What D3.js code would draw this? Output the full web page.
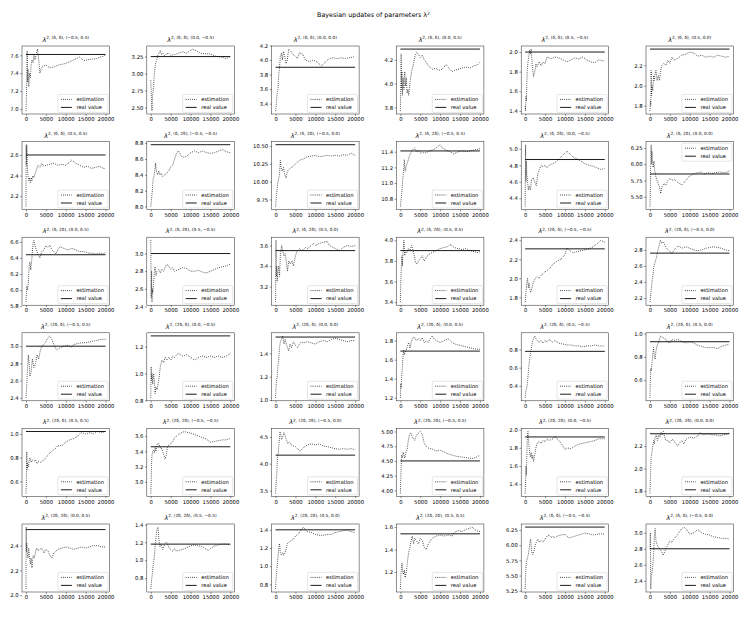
<!DOCTYPE html>
<html>
<head>
<meta charset="utf-8">
<script src="https://cdn.jsdelivr.net/npm/d3@7"></script>
<style>
  body { margin: 0; background: #fff; }
  text { font-family: "DejaVu Sans", sans-serif; }
</style>
</head>
<body>
<script>
// superscript part of each panel title
const panelTitles = [
  '2, (δ, δ), (−0.5, 0.5)', '2, (δ, δ), (0.0, −0.5)', '2, (δ, δ), (0.0, 0.0)',
  '2, (δ, δ), (0.0, 0.5)', '2, (δ, δ), (0.5, −0.5)', '2, (δ, δ), (0.5, 0.0)',
  '2, (δ, δ), (0.5, 0.5)', '2, (δ, 2δ), (−0.5, −0.5)', '2, (δ, 2δ), (−0.5, 0.0)',
  '2, (δ, 2δ), (−0.5, 0.5)', '2, (δ, 2δ), (0.0, −0.5)', '2, (δ, 2δ), (0.0, 0.0)',
  '2, (δ, 2δ), (0.0, 0.5)', '2, (δ, 2δ), (0.5, −0.5)', '2, (δ, 2δ), (0.5, 0.0)',
  '2, (δ, 2δ), (0.5, 0.5)', '2, (2δ, δ), (−0.5, −0.5)', '2, (2δ, δ), (−0.5, 0.0)',
  '2, (2δ, δ), (−0.5, 0.5)', '2, (2δ, δ), (0.0, −0.5)', '2, (2δ, δ), (0.0, 0.0)',
  '2, (2δ, δ), (0.0, 0.5)', '2, (2δ, δ), (0.5, −0.5)', '2, (2δ, δ), (0.5, 0.0)',
  '2, (2δ, δ), (0.5, 0.5)', '2, (2δ, 2δ), (−0.5, −0.5)', '2, (2δ, 2δ), (−0.5, 0.0)',
  '2, (2δ, 2δ), (−0.5, 0.5)', '2, (2δ, 2δ), (0.0, −0.5)', '2, (2δ, 2δ), (0.0, 0.0)',
  '2, (2δ, 2δ), (0.0, 0.5)', '2, (2δ, 2δ), (0.5, −0.5)', '2, (2δ, 2δ), (0.5, 0.0)',
  '2, (2δ, 2δ), (0.5, 0.5)', '2, (δ, δ), (−0.5, −0.5)', '2, (δ, δ), (−0.5, 0.0)'
];

const realValues = [
  7.61, 3.25, 3.9, 4.29, 2.0, 2.36,
  2.6, 8.78, 10.52, 11.41, 4.87, 5.85,
  6.44, 3.0, 3.55, 3.9, 2.31, 2.76,
  3.0, 1.28, 1.54, 1.69, 0.78, 0.93,
  1.02, 3.46, 4.16, 4.5, 1.92, 2.31,
  2.53, 1.18, 1.4, 1.54, 6.3, 2.8
];

const yTickLabels = [
  ['7.0', '7.2', '7.4', '7.6'], ['2.50', '2.75', '3.00', '3.25'], ['3.4', '3.6', '3.8', '4.0', '4.2'],
  ['3.8', '4.0', '4.2'], ['1.4', '1.6', '1.8', '2.0'], ['1.8', '2.0', '2.2'],
  ['2.2', '2.4', '2.6'], ['8.0', '8.2', '8.4', '8.6', '8.8'], ['9.75', '10.00', '10.25', '10.50'],
  ['10.8', '11.0', '11.2', '11.4'], ['4.4', '4.6', '4.8', '5.0'], ['5.50', '5.75', '6.00', '6.25'],
  ['5.8', '6.0', '6.2', '6.4', '6.6'], ['2.4', '2.6', '2.8', '3.0'], ['3.2', '3.4', '3.6'],
  ['3.4', '3.6', '3.8', '4.0'], ['1.8', '2.0', '2.2', '2.4'], ['2.2', '2.4', '2.6', '2.8'],
  ['2.4', '2.6', '2.8', '3.0'], ['0.8', '1.0', '1.2'], ['1.0', '1.2', '1.4'],
  ['1.2', '1.4', '1.6', '1.8'], ['0.4', '0.6', '0.8'], ['0.6', '0.8', '1.0'],
  ['0.6', '0.8', '1.0'], ['3.0', '3.2', '3.4', '3.6'], ['3.5', '4.0', '4.5'],
  ['4.00', '4.25', '4.50', '4.75', '5.00'], ['1.4', '1.6', '1.8', '2.0'], ['1.8', '2.0', '2.2'],
  ['2.0', '2.2', '2.4'], ['0.8', '1.0', '1.2', '1.4'], ['0.8', '1.0', '1.2', '1.4'],
  ['1.2', '1.4', '1.6'], ['5.25', '5.50', '5.75', '6.00', '6.25'], ['2.4', '2.6', '2.8', '3.0']
];

const xTicks = [0, 5000, 10000, 15000, 20000];

// panels whose legend sits in the upper right
const legendUpper = [11];

// estimation curves, [iteration, value]
const estimates = [
  [[0,6.98],[100,7.1],[200,7.35],[300,7.65],[400,7.3],[500,7.45],[700,7.25],[900,7.4],[1100,7.35],[1300,7.5],[1500,7.55],[1800,7.52],[2000,7.6],[2300,7.55],[2600,7.62],[2900,7.67],[3200,7.55],[3500,7.40],[3800,7.45],[4200,7.48],[5000,7.49],[6000,7.46],[7000,7.47],[8000,7.49],[9000,7.50],[10000,7.51],[11000,7.53],[12000,7.55],[13000,7.57],[13500,7.58],[14500,7.54],[15500,7.55],[16500,7.56],[17500,7.56],[18500,7.58],[19500,7.59],[20000,7.61]],
  [[0,2.9],[100,2.75],[200,2.55],[300,2.45],[400,2.6],[500,2.7],[700,2.8],[900,3.0],[1200,3.15],[1500,3.2],[1800,3.28],[2100,3.3],[2400,3.34],[2700,3.28],[3000,3.3],[3500,3.26],[4000,3.29],[4500,3.3],[5000,3.27],[6000,3.28],[7000,3.3],[8000,3.32],[9000,3.3],[10000,3.34],[10500,3.36],[11500,3.33],[12500,3.3],[13500,3.29],[15000,3.29],[16000,3.26],[17000,3.25],[18000,3.24],[19000,3.22],[20000,3.25]],
  [[0,3.3],[200,3.4],[400,3.55],[600,3.6],[800,3.8],[1000,3.9],[1200,4.05],[1500,4.1],[1700,4.0],[2000,4.12],[2300,4.05],[2600,3.95],[2900,3.98],[3300,4.15],[3800,4.12],[4300,4.08],[5000,4.05],[5500,4.02],[6000,4.10],[6800,4.08],[7500,4.0],[8500,3.98],[9500,4.0],[10500,3.97],[11500,3.92],[12500,3.97],[13500,4.02],[14500,4.03],[15500,4.02],[16500,4.03],[17500,4.02],[18500,4.03],[19500,4.04],[20000,4.05]],
  [[0,3.77],[100,4.0],[200,4.25],[300,3.95],[400,4.1],[500,3.9],[700,4.05],[900,3.95],[1100,4.1],[1300,3.98],[1500,4.05],[1700,3.92],[1900,3.95],[2100,3.9],[2400,4.0],[2800,4.1],[3200,4.15],[3600,4.22],[4000,4.26],[4500,4.25],[5000,4.22],[5500,4.24],[6000,4.2],[6500,4.18],[7000,4.15],[8000,4.12],[9000,4.13],[9500,4.11],[10500,4.12],[11500,4.16],[12500,4.12],[13000,4.10],[13500,4.11],[14500,4.12],[15500,4.13],[16500,4.14],[17500,4.13],[18500,4.15],[19500,4.16],[20000,4.18]],
  [[0,1.45],[100,1.4],[200,1.55],[300,1.5],[500,1.8],[700,1.9],[900,1.95],[1100,2.02],[1300,1.98],[1500,2.03],[1800,1.85],[2100,1.75],[2400,1.8],[2700,1.88],[3000,1.85],[3500,1.9],[4000,1.86],[4500,1.9],[5000,1.88],[5500,1.95],[6500,1.93],[7500,1.95],[8500,1.94],[9500,1.92],[10500,1.9],[11500,1.92],[12500,1.94],[13500,1.93],[14500,1.95],[15500,1.92],[16500,1.9],[17500,1.89],[18500,1.92],[19500,1.91],[20000,1.91]],
  [[0,1.75],[100,1.85],[200,1.8],[300,2.15],[400,1.9],[500,2.0],[700,1.95],[900,2.1],[1100,2.05],[1300,2.12],[1500,2.15],[1800,2.05],[2100,2.1],[2400,2.05],[2700,2.15],[3000,2.2],[3500,2.22],[4000,2.2],[4500,2.25],[5000,2.22],[5500,2.28],[6000,2.25],[7000,2.27],[8000,2.3],[9000,2.31],[10000,2.33],[11000,2.32],[12000,2.29],[13000,2.3],[14000,2.28],[15000,2.29],[16000,2.28],[17000,2.3],[18000,2.29],[19000,2.28],[20000,2.29]],
  [[0,2.1],[50,2.7],[100,2.5],[200,2.7],[300,2.6],[400,2.45],[500,2.4],[700,2.35],[900,2.38],[1100,2.33],[1300,2.38],[1500,2.35],[1700,2.4],[2000,2.38],[2300,2.42],[2600,2.45],[3000,2.5],[3500,2.48],[4000,2.52],[4500,2.49],[5000,2.5],[6000,2.51],[7000,2.52],[8000,2.5],[9000,2.51],[10000,2.5],[11000,2.53],[11500,2.55],[12500,2.52],[13500,2.5],[14500,2.48],[15500,2.49],[16500,2.47],[17500,2.48],[18500,2.49],[19500,2.47],[20000,2.47]],
  [[0,8.0],[200,8.1],[400,8.2],[600,8.35],[800,8.38],[1000,8.45],[1200,8.55],[1400,8.45],[1700,8.4],[2000,8.45],[2300,8.4],[2600,8.42],[3000,8.38],[3500,8.4],[4000,8.42],[4500,8.45],[5000,8.5],[5500,8.52],[6000,8.6],[6500,8.68],[7000,8.7],[7500,8.65],[8000,8.62],[9000,8.63],[10000,8.68],[11000,8.7],[12000,8.68],[13000,8.7],[14000,8.68],[15000,8.67],[16000,8.68],[17000,8.7],[18000,8.72],[19000,8.69],[20000,8.68]],
  [[0,9.65],[200,9.8],[400,9.9],[600,10.0],[800,10.05],[1000,10.1],[1200,10.3],[1400,10.2],[1700,10.15],[2000,10.2],[2300,10.1],[2600,10.05],[3000,10.15],[3500,10.18],[4000,10.2],[4500,10.22],[5000,10.25],[6000,10.3],[7000,10.32],[8000,10.35],[9000,10.36],[10000,10.37],[11000,10.35],[12000,10.36],[13000,10.37],[14000,10.36],[15000,10.37],[16000,10.36],[17000,10.38],[18000,10.37],[19000,10.4],[20000,10.37]],
  [[0,10.7],[200,10.8],[400,10.9],[600,11.05],[800,11.15],[1000,11.3],[1200,11.15],[1400,11.2],[1700,11.25],[2000,11.3],[2300,11.35],[2600,11.38],[3000,11.42],[3500,11.45],[4000,11.4],[4500,11.42],[5000,11.38],[5500,11.4],[6000,11.38],[7000,11.4],[8000,11.42],[9000,11.45],[10000,11.49],[10500,11.45],[11500,11.42],[12500,11.4],[13500,11.37],[14500,11.4],[15500,11.41],[16500,11.4],[17500,11.41],[18500,11.42],[19500,11.43],[20000,11.44]],
  [[0,4.3],[100,5.05],[200,4.6],[300,4.85],[400,4.7],[600,4.6],[800,4.5],[1000,4.55],[1300,4.5],[1600,4.62],[2000,4.65],[2400,4.6],[2800,4.55],[3200,4.7],[3600,4.75],[4000,4.8],[4500,4.78],[5000,4.8],[5500,4.77],[6000,4.8],[7000,4.82],[8000,4.85],[9000,4.9],[10000,4.95],[10500,4.97],[11000,4.95],[12000,4.9],[13000,4.88],[14000,4.85],[15000,4.82],[16000,4.8],[17000,4.79],[18000,4.77],[19000,4.75],[20000,4.76]],
  [[0,5.35],[100,5.6],[200,6.1],[300,6.3],[400,6.0],[500,6.2],[600,6.05],[800,5.95],[1000,6.05],[1200,5.9],[1500,5.8],[1800,5.75],[2100,5.7],[2400,5.65],[2700,5.55],[3000,5.65],[3500,5.7],[4000,5.68],[4500,5.75],[5000,5.78],[5500,5.75],[6000,5.77],[7000,5.72],[8000,5.68],[9000,5.75],[10000,5.82],[11000,5.85],[12000,5.87],[13000,5.88],[13500,5.85],[14500,5.87],[15500,5.86],[16500,5.87],[17500,5.88],[18500,5.87],[19500,5.88],[20000,5.9]],
  [[0,5.85],[200,6.05],[400,6.0],[600,6.1],[800,6.3],[1000,6.35],[1200,6.25],[1500,6.4],[1800,6.6],[2000,6.62],[2300,6.55],[2600,6.5],[3000,6.45],[3500,6.4],[4000,6.48],[4500,6.5],[5000,6.55],[5500,6.53],[6000,6.56],[6500,6.5],[7000,6.48],[7500,6.45],[8000,6.5],[8500,6.54],[9500,6.52],[10500,6.5],[11500,6.52],[12500,6.5],[13500,6.48],[14500,6.48],[15500,6.46],[16500,6.46],[17500,6.45],[18500,6.46],[19500,6.45],[20000,6.47]],
  [[0,3.15],[100,2.5],[200,2.8],[300,2.45],[400,2.6],[500,2.55],[700,2.65],[900,2.8],[1100,2.85],[1300,2.75],[1600,2.8],[2000,2.82],[2400,2.78],[2800,2.82],[3200,2.8],[3600,2.84],[4000,2.88],[4500,2.86],[5000,2.82],[5500,2.84],[6000,2.8],[7000,2.82],[8000,2.84],[9000,2.83],[10000,2.8],[11000,2.8],[12000,2.81],[13000,2.79],[14000,2.78],[15000,2.8],[16000,2.82],[17000,2.84],[18000,2.85],[19000,2.86],[20000,2.88]],
  [[0,3.05],[100,3.65],[200,3.3],[300,3.4],[400,3.25],[600,3.35],[800,3.4],[1000,3.3],[1200,3.5],[1500,3.6],[1800,3.55],[2100,3.5],[2400,3.52],[2700,3.45],[3000,3.35],[3300,3.45],[3700,3.42],[4100,3.45],[4500,3.4],[5000,3.5],[5500,3.55],[6000,3.57],[6500,3.55],[7000,3.56],[7500,3.58],[8000,3.57],[9000,3.6],[9500,3.62],[10000,3.6],[11000,3.62],[12000,3.63],[13000,3.64],[13500,3.6],[14500,3.58],[15500,3.56],[16000,3.55],[17000,3.58],[18000,3.6],[19000,3.59],[20000,3.6]],
  [[0,3.4],[100,3.6],[200,3.7],[300,3.8],[400,3.85],[500,3.75],[700,3.9],[900,4.0],[1100,3.85],[1300,3.9],[1600,3.88],[2000,3.92],[2400,3.9],[2800,3.95],[3200,3.9],[3500,3.85],[3800,3.78],[4200,3.77],[4600,3.8],[5000,3.82],[5500,3.85],[6000,3.8],[6500,3.83],[7000,3.86],[8000,3.88],[9000,3.9],[10000,3.92],[11000,3.93],[12000,3.94],[12500,3.96],[13500,3.93],[14500,3.92],[15500,3.91],[16500,3.92],[17500,3.9],[18500,3.89],[19500,3.88],[20000,3.89]],
  [[0,1.75],[200,1.85],[400,1.95],[600,2.0],[800,1.9],[1000,1.95],[1200,1.88],[1400,1.85],[1700,1.9],[2000,1.95],[2500,2.0],[3000,2.02],[3500,2.0],[4000,2.03],[4500,2.05],[5000,2.07],[5500,2.08],[6000,2.1],[6500,2.12],[7000,2.15],[8000,2.18],[9000,2.2],[10000,2.25],[10500,2.32],[11000,2.3],[12000,2.27],[13000,2.28],[14000,2.29],[15000,2.3],[16000,2.31],[17000,2.33],[18000,2.36],[19000,2.4],[20000,2.38]],
  [[0,2.15],[200,2.25],[400,2.35],[600,2.45],[800,2.5],[1000,2.6],[1300,2.65],[1600,2.7],[2000,2.8],[2300,2.85],[2600,2.92],[3000,2.88],[3400,2.9],[3800,2.85],[4200,2.82],[4600,2.8],[5000,2.78],[5500,2.75],[6000,2.8],[6500,2.82],[7000,2.85],[7500,2.84],[8000,2.82],[9000,2.84],[10000,2.82],[11000,2.8],[12000,2.79],[13000,2.8],[14000,2.82],[15000,2.83],[16000,2.84],[17000,2.83],[18000,2.82],[19000,2.8],[20000,2.79]],
  [[0,2.4],[200,2.55],[400,2.75],[600,2.9],[800,2.8],[1000,2.65],[1300,2.7],[1600,2.85],[2000,2.75],[2400,2.8],[2800,2.9],[3200,2.85],[3600,2.95],[4000,3.0],[4500,3.02],[5000,3.05],[5500,3.1],[6000,3.12],[6500,3.08],[7000,3.02],[7500,2.97],[8000,2.96],[8500,2.98],[9500,3.0],[10500,3.01],[11500,2.99],[12000,3.02],[13000,3.03],[14000,3.04],[15000,3.04],[16000,3.05],[17000,3.06],[18000,3.07],[19000,3.08],[20000,3.08]],
  [[0,0.82],[100,1.05],[200,0.95],[300,1.0],[500,0.92],[700,1.0],[900,0.95],[1100,0.85],[1300,0.9],[1600,0.88],[2000,0.95],[2400,1.05],[2800,1.1],[3200,1.08],[3600,1.12],[4000,1.1],[4500,1.12],[5000,1.1],[5500,1.13],[6000,1.12],[6500,1.14],[7000,1.15],[8000,1.13],[9000,1.14],[10000,1.12],[11000,1.1],[12000,1.12],[13000,1.13],[14000,1.12],[15000,1.13],[16000,1.12],[17000,1.13],[18000,1.12],[19000,1.13],[20000,1.15]],
  [[0,1.02],[100,1.1],[200,1.15],[400,1.2],[600,1.3],[800,1.35],[1000,1.45],[1200,1.5],[1500,1.52],[1800,1.55],[2100,1.48],[2400,1.52],[2700,1.48],[3000,1.45],[3300,1.42],[3600,1.48],[4000,1.45],[4500,1.5],[5000,1.47],[5500,1.45],[6000,1.48],[6500,1.5],[7000,1.49],[8000,1.5],[9000,1.49],[10000,1.48],[11000,1.5],[12000,1.51],[13000,1.5],[14000,1.52],[15000,1.53],[16000,1.52],[17000,1.51],[18000,1.5],[19000,1.51],[20000,1.51]],
  [[0,1.2],[100,1.35],[200,1.3],[300,1.4],[400,1.45],[600,1.6],[800,1.7],[1000,1.65],[1200,1.68],[1500,1.7],[1800,1.75],[2100,1.78],[2400,1.72],[2700,1.78],[3000,1.82],[3500,1.84],[4000,1.8],[4500,1.82],[5000,1.8],[5500,1.83],[6000,1.78],[6500,1.8],[7000,1.78],[7500,1.82],[8000,1.85],[8500,1.82],[9000,1.8],[10000,1.78],[11000,1.8],[12000,1.82],[13000,1.78],[14000,1.76],[15000,1.75],[16000,1.74],[17000,1.73],[18000,1.72],[19000,1.71],[20000,1.71]],
  [[0,0.27],[200,0.35],[400,0.38],[600,0.45],[800,0.55],[1000,0.65],[1200,0.72],[1500,0.8],[1800,0.88],[2100,0.92],[2400,0.95],[2700,0.92],[3000,0.9],[3500,0.88],[4000,0.9],[4500,0.87],[5000,0.9],[5500,0.88],[6000,0.91],[7000,0.88],[7500,0.9],[8500,0.87],[9500,0.86],[10500,0.85],[11500,0.85],[12500,0.84],[13500,0.84],[14500,0.83],[15500,0.84],[16500,0.84],[17500,0.85],[18500,0.84],[19500,0.84],[20000,0.84]],
  [[0,0.45],[100,0.6],[200,0.7],[300,0.68],[500,0.75],[700,0.82],[900,0.88],[1100,0.8],[1300,0.78],[1500,0.85],[1800,0.9],[2100,0.92],[2400,0.95],[2700,0.98],[3000,0.97],[3500,0.96],[4000,0.95],[4500,0.93],[5000,0.92],[5500,0.95],[6000,0.94],[7000,0.95],[8000,0.93],[9000,0.92],[10000,0.93],[11000,0.92],[12000,0.9],[13000,0.89],[14000,0.88],[15000,0.88],[16000,0.88],[17000,0.87],[18000,0.89],[19000,0.9],[20000,0.91]],
  [[0,0.5],[100,0.6],[200,0.85],[300,0.7],[400,0.75],[600,0.72],[800,0.78],[1000,0.8],[1300,0.76],[1600,0.78],[2000,0.77],[2400,0.78],[2800,0.75],[3200,0.77],[3600,0.76],[4000,0.77],[4500,0.78],[5000,0.8],[5500,0.82],[6000,0.84],[6500,0.85],[7000,0.87],[7500,0.88],[8000,0.9],[9000,0.9],[10000,0.93],[11000,0.95],[12000,0.96],[13000,0.98],[13500,1.0],[14000,1.01],[15000,1.0],[16000,1.01],[17000,1.0],[18000,1.02],[19000,1.01],[20000,1.02]],
  [[0,2.85],[100,3.0],[200,3.25],[300,3.35],[500,3.4],[700,3.42],[900,3.38],[1100,3.45],[1300,3.4],[1600,3.5],[2000,3.5],[2300,3.45],[2600,3.45],[3000,3.4],[3300,3.35],[3600,3.3],[3900,3.35],[4200,3.45],[4500,3.48],[5000,3.5],[5500,3.52],[6000,3.58],[6500,3.6],[7000,3.62],[7500,3.64],[8000,3.65],[8500,3.66],[9000,3.65],[10000,3.64],[11000,3.62],[12000,3.6],[13000,3.58],[14000,3.56],[15000,3.52],[16000,3.53],[17000,3.54],[18000,3.55],[19000,3.55],[20000,3.57]],
  [[0,3.45],[100,3.6],[200,3.7],[300,3.8],[400,4.0],[500,4.15],[700,4.2],[900,4.4],[1100,4.6],[1300,4.55],[1500,4.45],[1800,4.5],[2100,4.58],[2400,4.52],[2700,4.45],[3000,4.38],[3500,4.4],[4000,4.35],[4500,4.33],[5000,4.32],[5500,4.28],[6000,4.24],[6500,4.26],[7000,4.3],[8000,4.35],[9000,4.37],[10000,4.35],[11000,4.37],[12000,4.33],[13000,4.32],[14000,4.3],[15000,4.28],[16000,4.27],[17000,4.28],[18000,4.27],[19000,4.28],[20000,4.26]],
  [[0,3.95],[100,4.2],[200,4.4],[300,4.6],[500,4.55],[700,4.65],[900,4.6],[1100,4.55],[1400,4.65],[1700,4.7],[2000,4.85],[2300,4.95],[2600,4.98],[3000,4.9],[3300,4.88],[3600,4.85],[4000,4.93],[4500,4.97],[5000,5.0],[5500,4.95],[6000,4.8],[6500,4.75],[7000,4.72],[8000,4.7],[9000,4.67],[10000,4.68],[11000,4.65],[12000,4.62],[13000,4.6],[14000,4.58],[15000,4.57],[16000,4.56],[17000,4.55],[18000,4.54],[19000,4.56],[20000,4.6]],
  [[0,1.3],[100,1.45],[200,1.6],[300,1.5],[400,1.7],[500,1.85],[600,1.95],[700,1.98],[900,1.85],[1100,1.75],[1300,1.7],[1500,1.75],[1700,1.68],[1900,1.72],[2100,1.65],[2400,1.72],[2700,1.8],[3000,1.85],[3500,1.87],[4000,1.85],[4500,1.88],[5000,1.87],[5500,1.9],[6000,1.88],[7000,1.9],[7500,1.93],[8000,1.9],[8500,1.88],[9000,1.85],[9500,1.82],[10000,1.78],[10500,1.8],[11500,1.79],[12500,1.82],[13500,1.84],[14500,1.85],[15500,1.86],[16500,1.87],[17500,1.88],[18500,1.9],[19500,1.9],[20000,1.9]],
  [[0,1.78],[100,1.9],[200,2.0],[300,2.1],[500,2.15],[700,2.2],[900,2.25],[1100,2.22],[1300,2.28],[1600,2.3],[1900,2.25],[2200,2.3],[2500,2.28],[2800,2.32],[3100,2.3],[3400,2.33],[3700,2.28],[4000,2.25],[4500,2.25],[5000,2.23],[5500,2.26],[6000,2.25],[6500,2.22],[7000,2.2],[7500,2.23],[8000,2.25],[8500,2.22],[9000,2.26],[10000,2.28],[11000,2.27],[12000,2.29],[12500,2.32],[13500,2.3],[14500,2.31],[15500,2.3],[16500,2.3],[17500,2.29],[18500,2.3],[19500,2.31],[20000,2.32]],
  [[0,2.05],[50,2.55],[100,2.35],[200,2.42],[300,2.35],[500,2.3],[700,2.38],[900,2.3],[1100,2.25],[1300,2.3],[1500,2.22],[1800,2.32],[2100,2.3],[2400,2.35],[2700,2.38],[3000,2.36],[3500,2.37],[4000,2.38],[4500,2.34],[5000,2.37],[5500,2.36],[6000,2.32],[6500,2.3],[7000,2.34],[8000,2.37],[9000,2.38],[10000,2.39],[11000,2.38],[12000,2.37],[13000,2.38],[14000,2.39],[15000,2.38],[16000,2.39],[17000,2.4],[18000,2.4],[19000,2.39],[20000,2.39]],
  [[0,0.68],[200,0.78],[400,0.85],[600,0.95],[800,1.0],[1000,1.1],[1200,1.2],[1400,1.3],[1600,1.35],[1800,1.37],[2000,1.25],[2300,1.15],[2600,1.18],[3000,1.12],[3500,1.18],[4000,1.2],[4500,1.15],[5000,1.12],[5500,1.1],[6000,1.13],[6500,1.1],[7000,1.11],[8000,1.12],[9000,1.14],[10000,1.16],[11000,1.17],[12000,1.16],[13000,1.15],[14000,1.12],[14500,1.11],[15000,1.13],[16000,1.16],[17000,1.17],[18000,1.18],[19000,1.18],[20000,1.17]],
  [[0,0.75],[100,0.85],[200,0.9],[400,1.0],[600,1.1],[800,1.2],[1000,1.25],[1200,1.15],[1500,1.12],[1800,1.15],[2100,1.12],[2400,1.15],[2700,1.2],[3000,1.25],[3500,1.27],[4000,1.28],[4500,1.3],[5000,1.33],[5500,1.35],[6000,1.37],[6500,1.4],[7000,1.43],[7500,1.4],[8000,1.38],[9000,1.37],[10000,1.35],[11000,1.34],[12000,1.34],[13000,1.35],[14000,1.35],[15000,1.37],[16000,1.38],[17000,1.39],[18000,1.4],[19000,1.38],[20000,1.37]],
  [[0,1.05],[100,1.15],[200,1.2],[400,1.28],[600,1.2],[800,1.18],[1000,1.22],[1200,1.15],[1500,1.2],[1800,1.3],[2100,1.38],[2400,1.42],[2700,1.48],[3000,1.52],[3300,1.45],[3600,1.5],[4000,1.48],[4500,1.45],[5000,1.5],[5500,1.48],[6000,1.42],[6500,1.4],[7000,1.45],[7500,1.48],[8000,1.5],[9000,1.52],[10000,1.53],[11000,1.52],[12000,1.53],[13000,1.52],[13500,1.55],[14500,1.57],[15500,1.56],[16500,1.58],[17500,1.59],[18000,1.6],[19000,1.57],[20000,1.56]],
  [[0,5.28],[100,5.5],[200,5.65],[400,5.75],[600,5.8],[800,5.85],[1000,5.95],[1200,6.05],[1400,6.1],[1600,5.9],[1900,5.85],[2200,5.9],[2500,6.0],[2800,6.05],[3200,6.1],[3600,6.05],[4000,6.08],[4500,6.05],[5000,6.1],[5500,6.15],[6000,6.17],[6500,6.13],[7000,6.15],[7500,6.12],[8000,6.15],[9000,6.17],[10000,6.18],[11000,6.12],[12000,6.14],[13000,6.16],[14000,6.18],[15000,6.2],[16000,6.19],[17000,6.17],[18000,6.18],[19000,6.19],[20000,6.18]],
  [[0,2.8],[100,3.0],[200,2.3],[300,2.45],[500,2.5],[700,2.6],[900,2.7],[1100,2.95],[1300,3.05],[1500,2.9],[1800,2.85],[2100,2.82],[2400,2.8],[2700,2.78],[3000,2.76],[3300,2.72],[3600,2.75],[4000,2.8],[4500,2.85],[5000,2.9],[5500,2.88],[6000,2.92],[6500,2.95],[7000,2.98],[7500,3.02],[8000,3.05],[8500,3.07],[9000,3.05],[9500,3.02],[10000,2.98],[11000,3.0],[12000,3.04],[13000,3.0],[14000,2.98],[15000,2.97],[16000,2.95],[17000,2.94],[18000,2.93],[19000,2.93],[20000,2.92]]
];

// Layout
const width = 747, height = 623;
const boxW = 87.5, boxH = 68;
const tickFont = 5.3;

const svg = d3.select('body')
  .append('svg')
  .attr('width', width)
  .attr('height', height);

svg.append('text')
  .attr('x', width / 2)
  .attr('y', 17)
  .attr('text-anchor', 'middle')
  .style('font-size', '6.4px')
  .text('Bayesian updates of parameters λ')
  .append('tspan')
  .attr('dy', -2.4)
  .style('font-size', '4.5px')
  .text('2');

panelTitles.forEach((title, i) => drawPanel(i, title));

function drawPanel(i, title) {
  const col = i % 6, row = Math.floor(i / 6);
  const g = svg.append('g')
    .attr('transform', `translate(${22 + col * 124.8},${46 + row * 95.6})`);

  const est = estimates[i];
  const vals = est.map(d => d[1]).concat([realValues[i]]);
  const lo = d3.min(vals), hi = d3.max(vals);
  const pad = (hi - lo) * 0.05;

  const x = d3.scaleLinear().domain([-1000, 21000]).range([0, boxW]);
  const y = d3.scaleLinear().domain([lo - pad, hi + pad]).range([boxH, 0]);

  // estimation (dotted)
  g.append('path')
    .datum(est)
    .attr('d', d3.line().x(d => x(d[0])).y(d => y(d[1])))
    .attr('fill', 'none')
    .attr('stroke', '#000')
    .attr('stroke-width', 0.8)
    .attr('stroke-dasharray', '0.8,1.3');

  // real value
  g.append('line')
    .attr('x1', x(0)).attr('x2', x(20000))
    .attr('y1', y(realValues[i])).attr('y2', y(realValues[i]))
    .attr('stroke', '#000')
    .attr('stroke-width', 0.9);

  // axes
  const xAxis = d3.axisBottom(x).tickValues(xTicks).tickSize(1.8).tickPadding(1.6).tickFormat(d3.format('d'));
  const gx = g.append('g').attr('transform', `translate(0,${boxH})`).call(xAxis);
  const ticks = yTickLabels[i].map(Number);
  const labels = yTickLabels[i];
  const yAxis = d3.axisLeft(y).tickValues(ticks).tickSize(1.8).tickPadding(1.6)
    .tickFormat((d, k) => labels[k]);
  const gy = g.append('g').call(yAxis);

  [gx, gy].forEach(a => {
    a.select('.domain').remove();
    a.selectAll('line').attr('stroke', '#222').attr('stroke-width', 0.5);
    a.selectAll('text').style('font-size', tickFont + 'px')
      .style('font-family', '"DejaVu Sans", sans-serif').attr('fill', '#000');
  });

  g.append('rect')
    .attr('width', boxW).attr('height', boxH)
    .attr('fill', 'none')
    .attr('stroke', '#222')
    .attr('stroke-width', 0.5);

  // panel title: lambda with superscript
  const tt = g.append('text')
    .attr('x', boxW / 2)
    .attr('y', -4)
    .attr('text-anchor', 'middle');
  tt.append('tspan').style('font-size', '6.3px').style('font-style', 'italic').text('λ');
  tt.append('tspan').attr('dy', -2.6).style('font-size', '4.3px').text(title);

  drawLegend(g, legendUpper.includes(i));
}

function drawLegend(g, upper) {
  const fs = 5.2, lw = 50, lh = 18;
  const lx = boxW - 1.6 - lw;
  const ly = upper ? 1.6 : boxH - 1.6 - lh;
  const lg = g.append('g').attr('transform', `translate(${lx},${ly})`);
  lg.append('rect')
    .attr('width', lw).attr('height', lh)
    .attr('rx', 1).attr('ry', 1)
    .attr('fill', 'rgba(255,255,255,0.8)')
    .attr('stroke', '#cccccc')
    .attr('stroke-width', 0.5);

  const items = [
    { label: 'estimation', dash: '0.8,1.3' },
    { label: 'real value', dash: null }
  ];
  items.forEach((it, k) => {
    const cy = 5 + k * 8;
    const l = lg.append('line')
      .attr('x1', 3).attr('x2', 14)
      .attr('y1', cy).attr('y2', cy)
      .attr('stroke', '#000')
      .attr('stroke-width', 0.9);
    if (it.dash) l.attr('stroke-dasharray', it.dash);
    lg.append('text')
      .attr('x', 18.5)
      .attr('y', cy + fs * 0.36)
      .style('font-size', fs + 'px')
      .text(it.label);
  });
}
</script>
</body>
</html>
